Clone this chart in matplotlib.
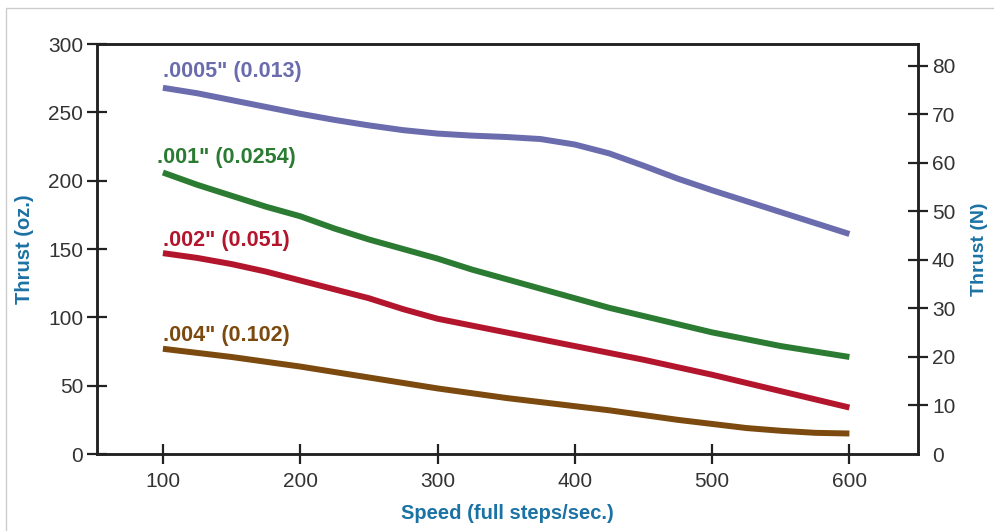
import matplotlib.pyplot as plt
from matplotlib.patches import Rectangle

# speed in full steps/sec, thrust in oz
speed = [100, 125, 150, 175, 200, 225, 250, 275, 300, 325, 350,
         375, 400, 425, 450, 475, 500, 525, 550, 575, 600]
thrust_0005 = [268, 264, 259, 254, 249, 244.5, 240.5, 237, 234.5, 233, 232,
               230.5, 226.5, 220, 211, 201.5, 193, 185, 177, 169, 161]
thrust_001 = [206, 197, 189, 181, 174, 165, 157, 150, 143, 135, 128,
              121, 114, 107, 101, 95, 89, 84, 79, 75, 71]
thrust_002 = [147, 143.5, 139, 133.5, 127, 120.5, 114, 106, 99, 94, 89,
              84, 79, 74, 69, 63.5, 58, 52, 46, 40, 34]
thrust_004 = [77, 74, 71, 67.5, 64, 60, 56, 52, 48, 44.5, 41,
              38, 35, 32, 28.5, 25, 22, 19, 17, 15.5, 15]

series = [
    (thrust_0005, '#6a6cae', '.0005" (0.013)', 280, 100),
    (thrust_001, '#2b7b32', '.001" (0.0254)', 217, 96),
    (thrust_002, '#b3162c', '.002" (0.051)', 156, 100),
    (thrust_004, '#7c4a0e', '.004" (0.102)', 87, 100),
]

x_ticks = [100, 200, 300, 400, 500, 600]
oz_ticks = [0, 50, 100, 150, 200, 250, 300]
n_ticks = [0, 10, 20, 30, 40, 50, 60, 70, 80]

plt.rcParams['font.family'] = ['Liberation Sans', 'DejaVu Sans']

fig = plt.figure(figsize=(9.94, 5.31), dpi=100)
fig.patches.append(Rectangle((6 / 994, -0.1), 1.1, 1 - 8 / 531 + 0.1,
                             transform=fig.transFigure, fill=False,
                             edgecolor='#cccccc', linewidth=1))
ax = fig.add_axes([0.0976, 0.145, 0.826, 0.772])

for vals, col, lab, ly, lx in series:
    ax.plot(speed, vals, color=col, linewidth=4.3, solid_capstyle='butt',
            solid_joinstyle='round')
    ax.text(lx, ly, lab, color=col, fontsize=15.5, fontweight='bold',
            ha='left', va='center')

ax.set_xlim(52, 650)
ax.set_ylim(0, 300)
ax.set_xticks(x_ticks)
ax.set_yticks(oz_ticks)

ax2 = ax.twinx()
ax2.set_ylim(0, 300 / 3.55)
ax2.set_yticks(n_ticks)

for a in (ax, ax2):
    for s in a.spines.values():
        s.set_linewidth(1.8)
        s.set_color('#222222')
    a.tick_params(direction='inout', length=14, width=1.6, color='#222222',
                  labelsize=15, labelcolor='#333333', pad=3)
ax.tick_params(axis='x', pad=6)

ax2.yaxis.get_major_ticks()[0].tick2line.set_visible(False)

label_col = '#1b72a4'
ax.set_xlabel('Speed (full steps/sec.)', color=label_col, fontsize=14.5,
              fontweight='bold', labelpad=9)
ax.set_ylabel('Thrust (oz.)', color=label_col, fontsize=14.5,
              fontweight='bold', labelpad=10)
ax2.set_ylabel('Thrust (N)', color=label_col, fontsize=14,
               fontweight='bold', labelpad=11)

plt.savefig('out.png', dpi=100)
